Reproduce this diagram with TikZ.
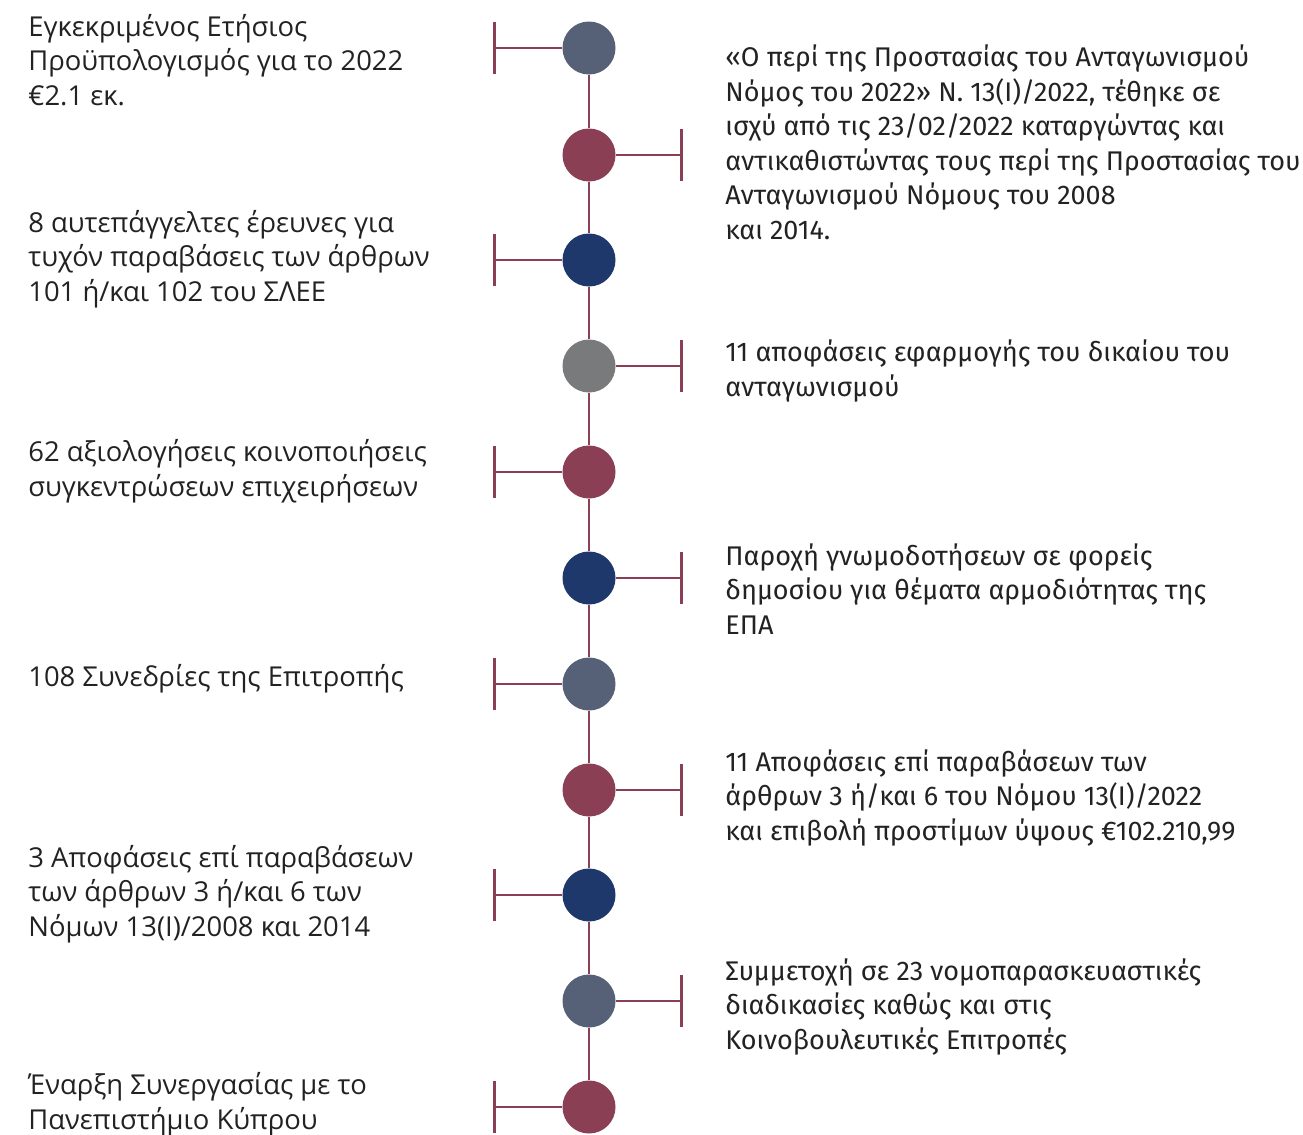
\documentclass[tikz,border=0pt]{standalone}
\usepackage{fontspec}
\setmainfont{Open Sans}
\newfontfamily\notefont{Fira Sans}
\usetikzlibrary{positioning, calc}

\definecolor{slate}{HTML}{566178}
\definecolor{wine}{HTML}{8A3F55}
\definecolor{navy}{HTML}{1E386C}
\definecolor{stone}{HTML}{797A7C}
\definecolor{ink}{HTML}{222222}

\begin{document}
\begin{tikzpicture}[x=0.5pt,y=-0.5pt,
    dot/.style={circle,inner sep=0pt,minimum size=26.5pt},
    bar/.style={draw=wine,line width=1.2pt},
    lefttext/.style={anchor=base west,inner sep=0pt,align=left,text=ink,
      font=\fontsize{13.7}{17.25}\selectfont},
    righttext/.style={anchor=base west,inner sep=0pt,align=left,text=ink,
      font=\notefont\fontsize{13.5}{17.25}\selectfont}]
  \useasboundingbox (0,0) rectangle (1303,1135);

  % circles on the time line
  \foreach \i/\yy/\col in {1/48/slate,2/155/wine,3/260/navy,4/366/stone,
      5/472/wine,6/578/navy,7/684/slate,8/790/wine,9/895/navy,
      10/1001/slate,11/1107/wine}
    \node[dot,fill=\col] (c\i) at (589,\yy) {};

  % spine
  \foreach \i [evaluate=\i as \j using int(\i+1)] in {1,...,10}
    \draw[bar] (c\i) -- (c\j);

  % left and right ticks
  \foreach \i in {1,3,5,7,9,11} {
    \draw[bar] (c\i.west) -- ++(-67.5,0) coordinate (t\i);
    \draw[bar] ($(t\i)+(0,-26)$) -- ($(t\i)+(0,26)$);
  }
  \foreach \i in {2,4,6,8,10} {
    \draw[bar] (c\i.east) -- ++(65.5,0) coordinate (t\i);
    \draw[bar] ($(t\i)+(0,-26)$) -- ($(t\i)+(0,26)$);
  }

  % texts on the left (placed at the baseline of their last line)
  \node[lefttext] (l1) at (28,105) {Εγκεκριμένος Ετήσιος\\Προϋπολογισμός για το 2022\\€2.1 εκ.};
  \node[lefttext] (l3) at (28,301) {8 αυτεπάγγελτες έρευνες για\\τυχόν παραβάσεις των άρθρων\\101 ή/και 102 του ΣΛΕΕ};
  \node[lefttext] (l5) at (28,496) {62 αξιολογήσεις κοινοποιήσεις\\συγκεντρώσεων επιχειρήσεων};
  \node[lefttext] (l7) at (28,686) {108 Συνεδρίες της Επιτροπής};
  \node[lefttext] (l9) at (28,936) {3 Αποφάσεις επί παραβάσεων\\των άρθρων 3 ή/και 6 των\\Νόμων 13(Ι)/2008 και 2014};
  \node[lefttext] (l11) at (28,1129) {Έναρξη Συνεργασίας με το\\Πανεπιστήμιο Κύπρου};

  % texts on the right
  \node[righttext] (r2) at (725,239) {«Ο περί της Προστασίας του Ανταγωνισμού\\Νόμος του 2022» Ν. 13(Ι)/2022, τέθηκε σε\\ισχύ από τις 23/02/2022 καταργώντας και\\αντικαθιστώντας τους περί της Προστασίας του\\Ανταγωνισμού Νόμους του 2008\\και 2014.};
  \node[righttext] (r4) at (725,396) {11 αποφάσεις εφαρμογής του δικαίου του\\ανταγωνισμού};
  \node[righttext] (r6) at (725,634) {Παροχή γνωμοδοτήσεων σε φορείς\\δημοσίου για θέματα αρμοδιότητας της\\ΕΠΑ};
  \node[righttext] (r8) at (725,840) {11 Αποφάσεις επί παραβάσεων των\\άρθρων 3 ή/και 6 του Νόμου 13(Ι)/2022\\και επιβολή προστίμων ύψους €102.210,99};
  \node[righttext] (r10) at (725,1049) {Συμμετοχή σε 23 νομοπαρασκευαστικές\\διαδικασίες καθώς και στις\\Κοινοβουλευτικές Επιτροπές};
\end{tikzpicture}
\end{document}
